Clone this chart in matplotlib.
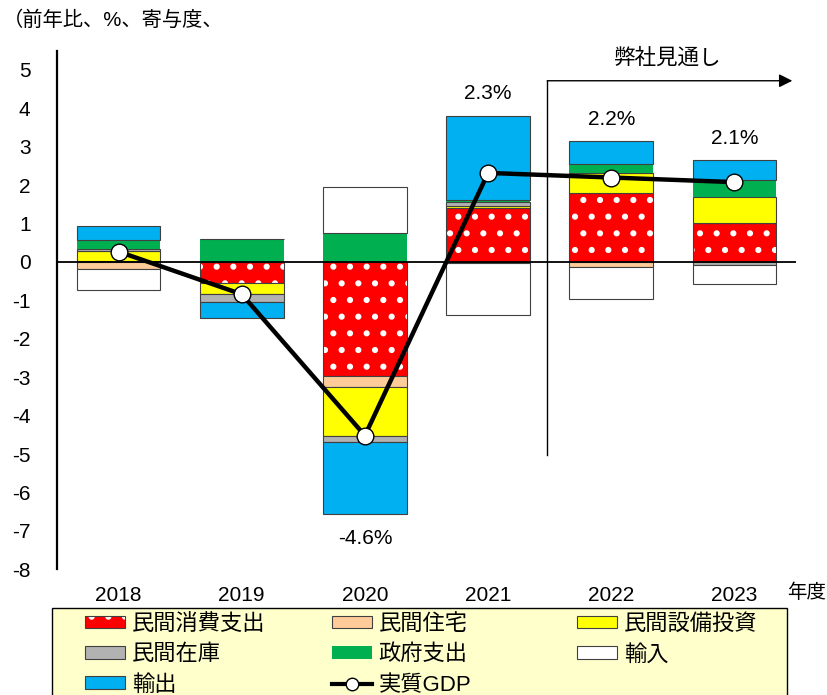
import matplotlib
matplotlib.use("Agg")
import matplotlib.pyplot as plt
from matplotlib.patches import Patch, Rectangle
from matplotlib.lines import Line2D
from matplotlib.legend_handler import HandlerTuple
import numpy as np

plt.rcParams['font.family'] = ['Liberation Sans', 'Noto Sans CJK JP']
plt.rcParams['axes.unicode_minus'] = False
plt.rcParams['hatch.linewidth'] = 2.0

# データ (寄与度, %pt)
years = ['2018', '2019', '2020', '2021', '2022', '2023']
consumption = [0.02, -0.54, -2.97, 1.40, 1.80, 1.02]   # 民間消費支出
housing     = [-0.18, 0.0, -0.29, -0.03, -0.12, 0.0]   # 民間住宅
capex       = [0.26, -0.30, -1.26, 0.06, 0.51, 0.68]   # 民間設備投資
inventory   = [0.06, -0.19, -0.16, 0.10, 0.0, -0.08]   # 民間在庫
government  = [0.24, 0.59, 0.76, 0.05, 0.23, 0.43]     # 政府支出
imports     = [-0.54, 0.0, 1.19, -1.35, -0.84, -0.49]  # 輸入
exports     = [0.37, -0.43, -1.88, 2.20, 0.61, 0.52]   # 輸出
gdp         = [0.27, -0.84, -4.52, 2.32, 2.20, 2.08]   # 実質GDP

# 表示するGDPラベル
gdp_labels = {3: '2.3%', 4: '2.2%', 5: '2.1%', 2: '-4.6%'}

series = [
    ('民間消費支出', consumption, '#FF0000'),
    ('民間住宅', housing, '#FFCC99'),
    ('民間設備投資', capex, '#FFFF00'),
    ('民間在庫', inventory, '#B2B2B2'),
    ('政府支出', government, '#00B050'),
    ('輸入', imports, '#FFFFFF'),
    ('輸出', exports, '#00B0F0'),
]

W, H = 828, 695
fig = plt.figure(figsize=(W / 100, H / 100), dpi=100)
ax = fig.add_axes([57 / W, 125.8 / H, (796 - 57) / W, (644.2 - 125.8) / H])

x = np.arange(len(years))
bw = 0.68
edge = '#404040'
pos_bottom = np.zeros(len(years))
neg_bottom = np.zeros(len(years))

for name, vals, col in series:
    v = np.array(vals)
    bottom = np.where(v >= 0, pos_bottom, neg_bottom)
    if name == '民間消費支出':
        # 赤地に白いドット
        ax.bar(x, v, bw, bottom=bottom, color=col, edgecolor='white',
               hatch='.', linewidth=0, zorder=2)
        ax.bar(x, v, bw, bottom=bottom, facecolor='none', edgecolor=edge,
               linewidth=0.8, zorder=2)
    elif name == '政府支出':
        ax.bar(x, v, bw, bottom=bottom, color=col, linewidth=0, zorder=2)
    else:
        ax.bar(x, v, bw, bottom=bottom, color=col, edgecolor=edge,
               linewidth=0.8, zorder=2)
    pos_bottom += np.clip(v, 0, None)
    neg_bottom += np.clip(v, None, 0)

ax.axhline(0, color='black', lw=1.3, zorder=3)
ax.plot(x, gdp, '-o', color='black', lw=3.2, ms=12, mfc='white', mec='black',
        mew=1, zorder=5)

for i, txt in gdp_labels.items():
    if gdp[i] >= 0:
        ax.annotate(txt, (x[i], pos_bottom[i]), xytext=(0, 9),
                    textcoords='offset points', ha='center', va='bottom', fontsize=15)
    else:
        ax.annotate(txt, (x[i], neg_bottom[i]), xytext=(0, -11),
                    textcoords='offset points', ha='center', va='top', fontsize=15)

# 見通し期間の矢印
fc_x, fc_y0, fc_y1, fc_end = 3.48, -5.03, 4.72, 5.47
ax.plot([fc_x, fc_x], [fc_y0, fc_y1], color='black', lw=1, clip_on=False)
ax.annotate('', xy=(fc_end, fc_y1), xytext=(fc_x, fc_y1),
            arrowprops=dict(arrowstyle='-|>', color='black', lw=1,
                            mutation_scale=20, shrinkA=0, shrinkB=0))
ax.text(4.46, 5.31, '弊社見通し', ha='center', va='center', fontsize=15.5)

ax.set_xlim(-0.5, 5.5)
ax.set_ylim(-8, 5.5)
ax.set_yticks(range(-8, 6))
ax.set_xticks(x)
ax.set_xticklabels(years)
ax.tick_params(axis='y', length=0, pad=19, labelsize=15)
ax.tick_params(axis='x', length=0, pad=12, labelsize=15)
for s in ['top', 'right', 'bottom']:
    ax.spines[s].set_visible(False)
ax.spines['left'].set_linewidth(1.6)
ax.patch.set_visible(False)

fig.text(0.003, 1 - 20 / H, '（前年比、%、寄与度、', ha='left', va='center', fontsize=14.6)
fig.text(807 / W, 1 - 593 / H, '年度', ha='center', va='center', fontsize=14)

# 凡例
fig.patches.append(Rectangle((52 / W, -0.01), (787 - 52) / W, 0.01 + (H - 608) / H,
                             transform=fig.transFigure, facecolor='#FFFFCC',
                             edgecolor='black', lw=1, zorder=0))

def mk(col):
    return Patch(facecolor=col, edgecolor=edge, linewidth=0.8)

red_h = (Patch(facecolor='#FF0000', edgecolor='white', hatch='.', linewidth=0),
         Patch(facecolor='none', edgecolor=edge, linewidth=0.8))
gdp_h = Line2D([], [], color='black', lw=3, marker='o', ms=9, mfc='white', mec='black')
cols = [
    ([red_h, mk('#B2B2B2'), mk('#00B0F0')], ['民間消費支出', '民間在庫', '輸出'], 85),
    ([mk('#FFCC99'), Patch(facecolor='#00B050', linewidth=0), gdp_h],
     ['民間住宅', '政府支出', '実質GDP'], 332),
    ([mk('#FFFF00'), mk('#FFFFFF')], ['民間設備投資', '輸入'], 577),
]
for hs, ls, px in cols:
    fig.legend(hs, ls, loc='upper left', bbox_to_anchor=(px / W, 1 - 614 / H),
               frameon=False, fontsize=16, handlelength=1.8, handleheight=0.5,
               handletextpad=0.3, labelspacing=0.42, borderpad=0, borderaxespad=0,
               handler_map={tuple: HandlerTuple(ndivide=1)})

fig.savefig('out.png', dpi=100)
